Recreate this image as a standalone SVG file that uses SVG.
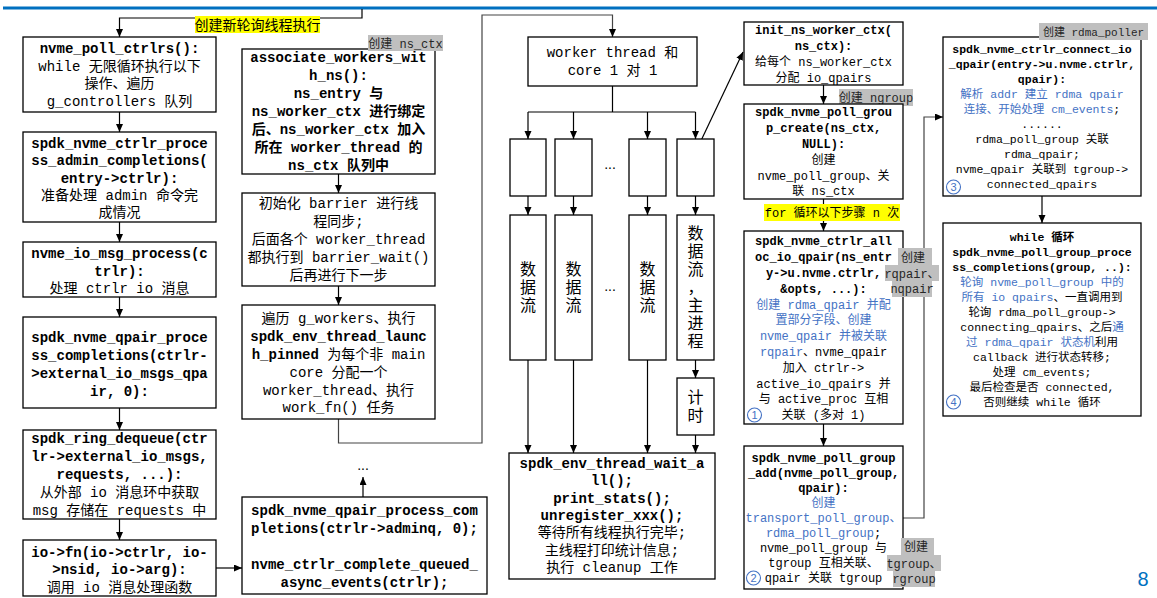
<svg xmlns="http://www.w3.org/2000/svg" width="1157" height="598" viewBox="0 0 1157 598">
<style>
.box{fill:#fff;stroke:#000;stroke-width:1.3}
.t{font-family:"Liberation Mono","Noto Sans CJK SC",monospace;font-size:14px;fill:#000;text-anchor:middle}
.b{font-weight:bold}
.m{font-size:12px}
.r{font-size:11.5px}
.cj{font-size:16px}
.bl{fill:#4472C4}
.k{fill:#000}
.conn{fill:none;stroke:#000;stroke-width:1.2}
.cg{fill:none;stroke:#444;stroke-width:1.2}
.gl{fill:#BFBFBF}
.yl{fill:#FFFF00}
.gt{font-family:"Liberation Mono","Noto Sans CJK SC",monospace;font-size:12px;fill:#262626;text-anchor:middle}
.circ{fill:none;stroke:#4472C4;stroke-width:1.1}
.cn{font-family:"Liberation Sans",sans-serif;font-size:11px;fill:#4472C4;text-anchor:middle}
</style>
<defs>
<marker id="ah" markerUnits="userSpaceOnUse" markerWidth="8" markerHeight="8" refX="8" refY="3.5" orient="auto">
<path d="M0,0 L8,3.5 L0,7 z" fill="#000"/>
</marker>
</defs>
<rect width="1157" height="598" fill="#fff"/>
<line x1="3" y1="8" x2="1157" y2="8" stroke="#0070C0" stroke-width="3"/>

<g id="connectors">
<path class="conn" d="M362,9 V18 H119.5 V37" marker-end="url(#ah)"/>
<path class="conn" d="M119.5,112 V132" marker-end="url(#ah)"/>
<path class="conn" d="M119.5,222 V242" marker-end="url(#ah)"/>
<path class="conn" d="M119.5,297 V317" marker-end="url(#ah)"/>
<path class="conn" d="M119.5,408 V430" marker-end="url(#ah)"/>
<path class="conn" d="M119.5,519 V540" marker-end="url(#ah)"/>
<path class="conn" d="M216,568 H242" marker-end="url(#ah)"/>
<path class="conn" d="M338.5,174 V193" marker-end="url(#ah)"/>
<path class="conn" d="M338.5,286 V305" marker-end="url(#ah)"/>
<path class="cg" d="M338.5,419 V443 H482 V15 H612.5 V37" marker-end="url(#ah)"/>
<path class="conn" d="M363,497 V477" marker-end="url(#ah)"/>
<path class="conn" d="M612.5,86 V112 M528,112 H695.5"/>
<path class="conn" d="M528,112 V139" marker-end="url(#ah)"/>
<path class="conn" d="M573.5,112 V139" marker-end="url(#ah)"/>
<path class="conn" d="M647.5,112 V139" marker-end="url(#ah)"/>
<path class="conn" d="M695.5,112 V139" marker-end="url(#ah)"/>
<path class="conn" d="M528,196 V215" marker-end="url(#ah)"/>
<path class="conn" d="M573.5,196 V215" marker-end="url(#ah)"/>
<path class="conn" d="M647.5,196 V215" marker-end="url(#ah)"/>
<path class="conn" d="M695.5,196 V215" marker-end="url(#ah)"/>
<path class="conn" d="M528,360 V453" marker-end="url(#ah)"/>
<path class="conn" d="M573.5,360 V453" marker-end="url(#ah)"/>
<path class="conn" d="M647.5,360 V453" marker-end="url(#ah)"/>
<path class="conn" d="M695.5,360 V378" marker-end="url(#ah)"/>
<path class="conn" d="M695.5,435 V453" marker-end="url(#ah)"/>
<path class="conn" d="M698,147 L743,52" marker-end="url(#ah)"/>
<path class="conn" d="M823.5,85 V104" marker-end="url(#ah)"/>
<path class="conn" d="M823.5,199 V231" marker-end="url(#ah)"/>
<path class="conn" d="M823.5,424 V446" marker-end="url(#ah)"/>
<path class="cg" d="M903,518 H924 V117 H943" marker-end="url(#ah)"/>
<path class="conn" d="M1042,196 V223" marker-end="url(#ah)"/>
</g>

<g id="label_new_thread">
<rect class="yl" x="195" y="16" width="125" height="17"/>
<text x="257.5" y="29.5" style="font-family:'Noto Sans CJK SC',sans-serif;font-size:14px;text-anchor:middle;fill:#000">创建新轮询线程执行</text>
</g>

<g id="n_poll_ctrlrs">
<rect class="box" x="23" y="37" width="193" height="75"/>
<text class="t b" x="119.5" y="53">nvme_poll_ctrlrs():</text>
<text class="t" x="119.5" y="70.7">while 无限循环执行以下</text>
<text class="t" x="119.5" y="88.3">操作、遍历</text>
<text class="t" x="119.5" y="106">g_controllers 队列</text>
</g>

<g id="n_admin_completions">
<rect class="box" x="23" y="132" width="193" height="90"/>
<text class="t b" x="119.5" y="148">spdk_nvme_ctrlr_proce</text>
<text class="t b" x="119.5" y="165.3">ss_admin_completions(</text>
<text class="t b" x="119.5" y="182.6">entry-&gt;ctrlr):</text>
<text class="t" x="119.5" y="199.9">准备处理 admin 命令完</text>
<text class="t" x="119.5" y="217.2">成情况</text>
</g>

<g id="n_io_msg_process">
<rect class="box" x="23" y="242" width="193" height="55"/>
<text class="t b" x="119.5" y="258">nvme_io_msg_process(c</text>
<text class="t b" x="119.5" y="275.5">trlr):</text>
<text class="t" x="119.5" y="293">处理 ctrlr io 消息</text>
</g>

<g id="n_qpair_completions">
<rect class="box" x="23" y="317" width="193" height="91"/>
<text class="t b" x="119.5" y="342">spdk_nvme_qpair_proce</text>
<text class="t b" x="119.5" y="360">ss_completions(ctrlr-</text>
<text class="t b" x="119.5" y="378">&gt;external_io_msgs_qpa</text>
<text class="t b" x="119.5" y="396">ir, 0):</text>
</g>

<g id="n_ring_dequeue">
<rect class="box" x="23" y="430" width="193" height="89"/>
<text class="t b" x="119.5" y="443">spdk_ring_dequeue(ctr</text>
<text class="t b" x="119.5" y="461">lr-&gt;external_io_msgs,</text>
<text class="t b" x="119.5" y="479">requests, ...):</text>
<text class="t" x="119.5" y="497">从外部 io 消息环中获取</text>
<text class="t" x="119.5" y="515">msg 存储在 requests 中</text>
</g>

<g id="n_io_fn">
<rect class="box" x="23" y="540" width="193" height="56"/>
<text class="t b" x="119.5" y="556.5">io-&gt;fn(io-&gt;ctrlr, io-</text>
<text class="t b" x="119.5" y="574">&gt;nsid, io-&gt;arg):</text>
<text class="t" x="119.5" y="591.5">调用 io 消息处理函数</text>
</g>

<g id="n_associate_workers">
<rect class="box" x="242" y="49" width="193" height="125"/>
<text class="t b" x="338.5" y="62.3">associate_workers_wit</text>
<text class="t b" x="338.5" y="80.3">h_ns():</text>
<text class="t b" x="338.5" y="98.3">ns_entry 与</text>
<text class="t b" x="338.5" y="116.3">ns_worker_ctx 进行绑定</text>
<text class="t b" x="338.5" y="134.3">后、ns_worker_ctx 加入</text>
<text class="t b" x="338.5" y="152.3">所在 worker_thread 的</text>
<text class="t b" x="338.5" y="170.3">ns_ctx 队列中</text>
</g>

<g id="label_ns_ctx">
<rect class="gl" x="368" y="35" width="75" height="16"/>
<text class="gt" x="405.5" y="47.5">创建 ns_ctx</text>
</g>

<g id="n_barrier">
<rect class="box" x="242" y="193" width="193" height="93"/>
<text class="t" x="338.5" y="208">初始化 barrier 进行线</text>
<text class="t" x="338.5" y="226">程同步;</text>
<text class="t" x="338.5" y="244">后面各个 worker_thread</text>
<text class="t" x="338.5" y="262">都执行到 barrier_wait()</text>
<text class="t" x="338.5" y="280">后再进行下一步</text>
</g>

<g id="n_launch_pinned">
<rect class="box" x="242" y="305" width="193" height="114"/>
<text class="t" x="338.5" y="323">遍历 g_workers、执行</text>
<text class="t b" x="338.5" y="341">spdk_env_thread_launc</text>
<text class="t" x="338.5" y="358.5"><tspan class="b">h_pinned</tspan> 为每个非 main</text>
<text class="t" x="338.5" y="376.5">core 分配一个</text>
<text class="t" x="338.5" y="394.5">worker_thread、执行</text>
<text class="t" x="338.5" y="412">work_fn() 任务</text>
</g>

<text class="t" x="363" y="470" style="font-family:'Liberation Sans',sans-serif">...</text>

<g id="n_adminq_completions">
<rect class="box" x="242" y="497" width="245" height="97"/>
<text class="t b" x="364.5" y="515">spdk_nvme_qpair_process_com</text>
<text class="t b" x="364.5" y="533">pletions(ctrlr-&gt;adminq, 0);</text>
<text class="t b" x="364.5" y="569">nvme_ctrlr_complete_queued_</text>
<text class="t b" x="364.5" y="587">async_events(ctrlr);</text>
</g>

<g id="n_worker_core">
<rect class="box" x="528" y="37" width="169" height="49"/>
<text class="t" x="612.5" y="57">worker thread 和</text>
<text class="t" x="612.5" y="75">core 1 对 1</text>
</g>

<g id="n_core1"><rect class="box" x="510" y="139" width="36" height="57"/></g>
<g id="n_core2"><rect class="box" x="555" y="139" width="37" height="57"/></g>
<text class="t" x="610" y="169" style="font-family:'Liberation Sans',sans-serif">...</text>
<g id="n_core3"><rect class="box" x="629" y="139" width="37" height="57"/></g>
<g id="n_core4"><rect class="box" x="677" y="139" width="37" height="57"/></g>

<g id="n_flow1">
<rect class="box" x="510" y="215" width="36" height="145"/>
<text class="t cj" x="528" y="275">数</text>
<text class="t cj" x="528" y="293">据</text>
<text class="t cj" x="528" y="311">流</text>
</g>
<g id="n_flow2">
<rect class="box" x="555" y="215" width="37" height="145"/>
<text class="t cj" x="573.5" y="275">数</text>
<text class="t cj" x="573.5" y="293">据</text>
<text class="t cj" x="573.5" y="311">流</text>
</g>
<text class="t" x="610" y="291" style="font-family:'Liberation Sans',sans-serif">...</text>
<g id="n_flow3">
<rect class="box" x="629" y="215" width="37" height="145"/>
<text class="t cj" x="647.5" y="275">数</text>
<text class="t cj" x="647.5" y="293">据</text>
<text class="t cj" x="647.5" y="311">流</text>
</g>
<g id="n_flow_main">
<rect class="box" x="677" y="215" width="37" height="145"/>
<text class="t cj" x="695.5" y="239">数</text>
<text class="t cj" x="695.5" y="257">据</text>
<text class="t cj" x="695.5" y="275">流</text>
<text class="t cj" x="695.5" y="293">，</text>
<text class="t cj" x="695.5" y="311">主</text>
<text class="t cj" x="695.5" y="329">进</text>
<text class="t cj" x="695.5" y="347">程</text>
</g>
<g id="n_timer">
<rect class="box" x="677" y="378" width="37" height="57"/>
<text class="t cj" x="695.5" y="403">计</text>
<text class="t cj" x="695.5" y="421">时</text>
</g>

<g id="n_wait_all">
<rect class="box" x="509" y="453" width="206" height="126"/>
<text class="t b" x="612" y="468">spdk_env_thread_wait_a</text>
<text class="t b" x="612" y="485.3">ll();</text>
<text class="t b" x="612" y="502.6">print_stats();</text>
<text class="t b" x="612" y="519.9">unregister_xxx();</text>
<text class="t" x="612" y="537.2">等待所有线程执行完毕;</text>
<text class="t" x="612" y="554.5">主线程打印统计信息;</text>
<text class="t" x="612" y="571.8">执行 cleanup 工作</text>
</g>

<g id="n_init_ns_worker_ctx">
<rect class="box" x="744" y="22" width="159" height="63"/>
<text class="t m b" x="823.5" y="33.5">init_ns_worker_ctx(</text>
<text class="t m b" x="823.5" y="49.5">ns_ctx):</text>
<text class="t m" x="823.5" y="65.5">给每个 ns_worker_ctx</text>
<text class="t m" x="823.5" y="81.5">分配 io_qpairs</text>
</g>

<g id="label_ngroup">
<rect class="gl" x="839" y="89" width="74" height="17"/>
<text class="gt" x="876" y="102">创建 ngroup</text>
</g>

<g id="n_poll_group_create">
<rect class="box" x="744" y="104" width="159" height="95"/>
<text class="t m b" x="823.5" y="116.3">spdk_nvme_poll_grou</text>
<text class="t m b" x="823.5" y="132.1">p_create(ns_ctx,</text>
<text class="t m b" x="823.5" y="147.9">NULL):</text>
<text class="t m" x="823.5" y="163.7">创建</text>
<text class="t m" x="823.5" y="179.5">nvme_poll_group、关</text>
<text class="t m" x="823.5" y="195.3">联 ns_ctx</text>
</g>

<g id="label_for_loop">
<rect class="yl" x="764" y="204" width="136" height="17"/>
<text class="t m" x="832" y="217">for 循环以下步骤 n 次</text>
</g>

<g id="n_alloc_io_qpair">
<rect class="box" x="744" y="231" width="159" height="193"/>
<text class="t m b" x="823.5" y="245.3">spdk_nvme_ctrlr_all</text>
<text class="t m b" x="823.5" y="261.1">oc_io_qpair(ns_entr</text>
<text class="t m b" x="823.5" y="276.9">y-&gt;u.nvme.ctrlr,</text>
<text class="t m b" x="823.5" y="292.7">&amp;opts, ...):</text>
<text class="t m bl" x="823.5" y="308.5">创建 rdma_qpair 并配</text>
<text class="t m bl" x="823.5" y="324.3">置部分字段、创建</text>
<text class="t m bl" x="823.5" y="340.1">nvme_qpair 并被关联</text>
<text class="t m" x="823.5" y="355.9"><tspan class="bl">rqpair</tspan>、nvme_qpair</text>
<text class="t m" x="823.5" y="371.7">加入 ctrlr-&gt;</text>
<text class="t m" x="823.5" y="387.5">active_io_qpairs 并</text>
<text class="t m" x="823.5" y="403.3">与 active_proc 互相</text>
<text class="t m" x="823.5" y="419.1">关联 (多对 1)</text>
<circle class="circ" cx="754.5" cy="415" r="7"/>
<text class="cn" x="754.5" y="419">1</text>
</g>

<g id="label_rqpair">
<rect class="gl" x="898" y="248" width="34" height="17"/>
<rect class="gl" x="885" y="265" width="54" height="16"/>
<rect class="gl" x="892" y="281" width="40" height="16"/>
<text class="gt" x="913" y="261.5">创建</text>
<text class="gt" x="912" y="277.5">rqpair、</text>
<text class="gt" x="912" y="293">nqpair</text>
</g>

<g id="n_poll_group_add">
<rect class="box" x="744" y="446" width="159" height="143"/>
<text class="t m b" x="823.5" y="462.3">spdk_nvme_poll_group</text>
<text class="t m b" x="823.5" y="477.3">_add(nvme_poll_group,</text>
<text class="t m b" x="823.5" y="492.3">qpair):</text>
<text class="t m bl" x="823.5" y="507.3">创建</text>
<text class="t m bl" x="823.5" y="522.3">transport_poll_group、</text>
<text class="t m" x="823.5" y="537.3"><tspan class="bl">rdma_poll_group</tspan>;</text>
<text class="t m" x="823.5" y="552.3">nvme_poll_group 与</text>
<text class="t m" x="823.5" y="567.3">tgroup 互相关联、</text>
<text class="t m" x="823.5" y="582.3">qpair 关联 tgroup</text>
<circle class="circ" cx="753.5" cy="578" r="7"/>
<text class="cn" x="753.5" y="582">2</text>
</g>

<g id="label_tgroup">
<rect class="gl" x="901" y="538" width="33" height="17"/>
<rect class="gl" x="887" y="555" width="54" height="16"/>
<rect class="gl" x="893" y="571" width="42" height="16"/>
<text class="gt" x="916" y="551">创建</text>
<text class="gt" x="914" y="567.5">tgroup、</text>
<text class="gt" x="914" y="583">rgroup</text>
</g>

<g id="n_connect_io_qpair">
<rect class="box" x="943" y="37" width="198" height="159"/>
<text class="t r b" x="1042" y="53">spdk_nvme_ctrlr_connect_io</text>
<text class="t r b" x="1042" y="68">_qpair(entry-&gt;u.nvme.ctrlr,</text>
<text class="t r b" x="1042" y="83">qpair):</text>
<text class="t r bl" x="1042" y="98">解析 addr 建立 rdma qpair</text>
<text class="t r" x="1042" y="113"><tspan class="bl">连接、开始处理 cm_events</tspan>;</text>
<text class="t r" x="1042" y="128">......</text>
<text class="t r" x="1042" y="143">rdma_poll_group 关联</text>
<text class="t r" x="1042" y="158">rdma_qpair;</text>
<text class="t r" x="1042" y="173">nvme_qpair 关联到 tgroup-&gt;</text>
<text class="t r" x="1042" y="188">connected_qpairs</text>
<circle class="circ" cx="953.5" cy="187" r="7"/>
<text class="cn" x="953.5" y="191">3</text>
</g>

<g id="label_rdma_poller">
<rect class="gl" x="1039" y="23" width="109" height="17"/>
<text class="gt" x="1093.5" y="36" style="font-size:11px">创建 rdma_poller</text>
</g>

<g id="n_process_completions">
<rect class="box" x="943" y="223" width="198" height="193"/>
<text class="t r b" x="1042" y="241">while 循环</text>
<text class="t r b" x="1042" y="256">spdk_nvme_poll_group_proce</text>
<text class="t r b" x="1042" y="271">ss_completions(group, ..):</text>
<text class="t r bl" x="1042" y="286">轮询 nvme_poll_group 中的</text>
<text class="t r" x="1042" y="301"><tspan class="bl">所有 io qpairs</tspan>、一直调用到</text>
<text class="t r" x="1042" y="316">轮询 rdma_poll_group-&gt;</text>
<text class="t r" x="1042" y="331">connecting_qpairs、之后<tspan class="bl">通</tspan></text>
<text class="t r" x="1042" y="346"><tspan class="bl">过 rdma_qpair 状态机</tspan>利用</text>
<text class="t r" x="1042" y="361">callback 进行状态转移;</text>
<text class="t r" x="1042" y="376">处理 cm_events;</text>
<text class="t r" x="1042" y="391">最后检查是否 connected,</text>
<text class="t r" x="1042" y="406">否则继续 while 循环</text>
<circle class="circ" cx="953.5" cy="402" r="7"/>
<text class="cn" x="953.5" y="406">4</text>
</g>

<text x="1143" y="586" style="font-family:'Liberation Sans',sans-serif;font-size:20px;fill:#0070C0;text-anchor:middle">8</text>
</svg>
